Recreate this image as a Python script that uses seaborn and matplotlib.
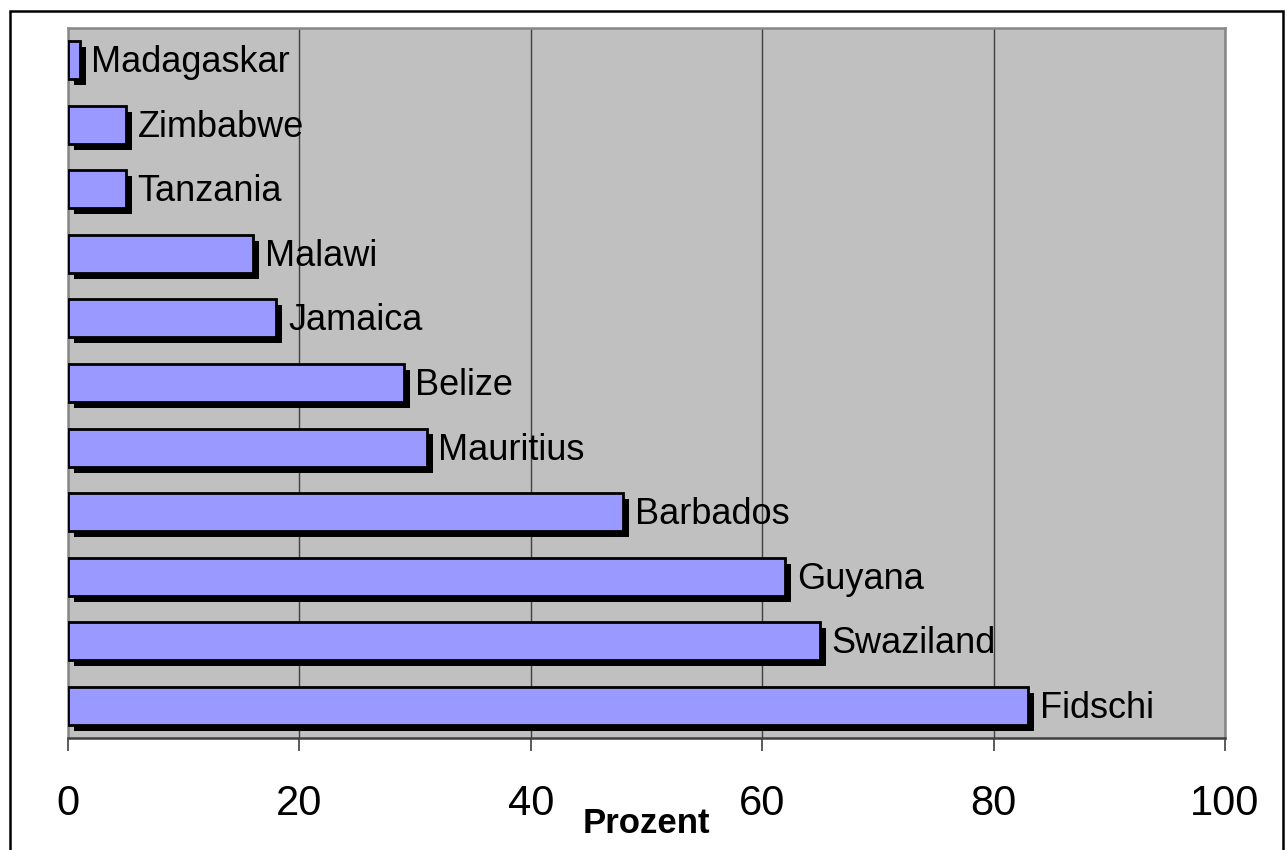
import matplotlib
matplotlib.use("Agg")
import matplotlib.pyplot as plt
import matplotlib.patheffects as pe
from matplotlib.patches import Rectangle
import seaborn as sns
import pandas as pd

countries = ["Madagaskar", "Zimbabwe", "Tanzania", "Malawi", "Jamaica", "Belize",
             "Mauritius", "Barbados", "Guyana", "Swaziland", "Fidschi"]
percent = [1, 5, 5, 16, 18, 29, 31, 48, 62, 65, 83]
x_ticks = [0, 20, 40, 60, 80, 100]

df = pd.DataFrame({"Land": countries, "Prozent": percent})

sns.set_theme(style="white")
plt.rcParams["font.family"] = ["Liberation Sans", "DejaVu Sans"]
plt.rcParams["text.color"] = "black"
plt.rcParams["xtick.color"] = "black"
plt.rcParams["axes.labelcolor"] = "black"

fig = plt.figure(figsize=(12.87, 8.5), dpi=100)
fig.patch.set_facecolor("white")
ax = fig.add_axes([68 / 1287, 1 - 738 / 850, (1225 - 68) / 1287, (738 - 28) / 850])
ax.set_facecolor("#c0c0c0")

# outer chart frame (bottom edge runs past the canvas)
fig.patches.append(Rectangle((9.5 / 1287, -0.05), (1282.5 - 9.5) / 1287, 1.05 - 10.5 / 850,
                             transform=fig.transFigure, fill=False,
                             edgecolor="black", linewidth=1.8, zorder=0))

sns.barplot(data=df, x="Prozent", y="Land", orient="h", order=countries,
            color="#9999ff", saturation=1, width=0.59,
            edgecolor="black", linewidth=2.0, ax=ax, zorder=3)

shadow = [pe.SimplePatchShadow(offset=(4.3, -4.3), shadow_rgbFace="black", alpha=1.0),
          pe.Normal()]
for bar in ax.patches:
    bar.set_path_effects(shadow)

for name, val in zip(countries, percent):
    ax.annotate(name, xy=(val, name), xytext=(8.5, -1.8), textcoords="offset points",
                ha="left", va="center", fontsize=26, color="black", zorder=4)

ax.set_xlim(0, 100)
ax.set_xticks(x_ticks)
ax.set_xticklabels([str(t) for t in x_ticks])
ax.tick_params(axis="x", which="major", direction="out", length=9, width=1.2,
               color="#404040", labelcolor="black", labelsize=30, pad=24, bottom=True)
ax.tick_params(axis="y", left=False, labelleft=False)
ax.set_ylabel("")
ax.set_xlabel("Prozent", fontsize=25, fontweight="bold", labelpad=-12, color="black")

ax.grid(axis="x", color="#404040", linewidth=1.0, zorder=1)
ax.grid(axis="y", visible=False)
ax.set_axisbelow(True)

for side in ["top", "left", "right"]:
    ax.spines[side].set_color("#888888")
    ax.spines[side].set_linewidth(1.8)
ax.spines["bottom"].set_color("#404040")
ax.spines["bottom"].set_linewidth(1.8)

fig.savefig("out.png", dpi=100, facecolor="white")
